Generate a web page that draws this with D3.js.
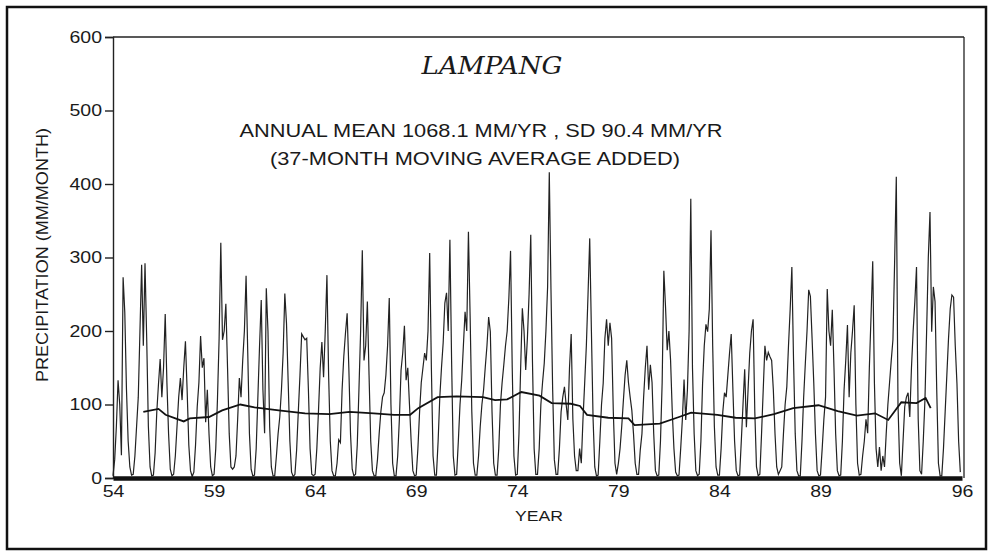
<!DOCTYPE html>
<html>
<head>
<meta charset="utf-8">
<script src="https://cdn.jsdelivr.net/npm/d3@7"></script>
<style>
  body { margin: 0; background: #fff; }
  svg { display: block; }
  .tick text { font-family: "Liberation Sans", Arial, sans-serif; font-size: 16px; fill: #1a1a1a; }
</style>
</head>
<body>
<svg id="chart" width="994" height="556"></svg>
<script>
// year labels on the x axis (19xx)
const xTicks = [54, 59, 64, 69, 74, 79, 84, 89, 96];
const yTicks = [0, 100, 200, 300, 400, 500, 600];

// first year of the record, one row of 12 monthly values per year (mm/month)
const startYear = 54;
const monthly = [
  [3, 25, 70, 133, 100, 31, 273, 225, 120, 50, 15, 4],      // 54
  [5, 30, 70, 110, 200, 290, 180, 292, 190, 70, 15, 3],     // 55
  [4, 34, 90, 128, 162, 110, 150, 223, 130, 60, 12, 3],     // 56
  [5, 30, 70, 110, 136, 106, 150, 186, 120, 45, 10, 2],     // 57
  [8, 45, 97, 130, 193, 150, 163, 76, 120, 60, 15, 3],      // 58
  [5, 40, 106, 190, 320, 188, 200, 237, 150, 60, 15, 12],   // 59
  [15, 30, 80, 136, 110, 160, 200, 275, 170, 60, 12, 3],    // 60
  [4, 40, 110, 180, 242, 120, 61, 258, 200, 70, 15, 3],     // 61
  [3, 30, 60, 83, 120, 170, 251, 210, 130, 50, 8, 2],       // 62
  [5, 38, 90, 140, 196, 192, 188, 190, 120, 40, 5, 3],      // 63
  [5, 40, 92, 150, 185, 137, 200, 276, 140, 50, 10, 3],     // 64
  [3, 20, 52, 48, 120, 165, 197, 224, 150, 60, 12, 3],      // 65
  [5, 45, 120, 200, 310, 160, 180, 240, 140, 50, 10, 3],    // 66
  [3, 25, 60, 90, 110, 116, 140, 180, 245, 100, 20, 3],     // 67
  [3, 30, 80, 147, 170, 207, 133, 150, 100, 50, 10, 3],     // 68
  [4, 40, 90, 130, 150, 170, 160, 200, 306, 150, 30, 4],    // 69
  [4, 50, 110, 150, 184, 238, 252, 200, 324, 160, 30, 4],   // 70
  [5, 50, 100, 133, 180, 226, 200, 335, 220, 90, 20, 4],    // 71
  [4, 30, 70, 100, 120, 151, 180, 219, 199, 90, 20, 4],     // 72
  [4, 40, 100, 130, 154, 180, 200, 245, 309, 150, 30, 4],   // 73
  [5, 60, 150, 231, 200, 147, 190, 250, 331, 160, 40, 5],   // 74
  [5, 40, 100, 130, 156, 200, 260, 416, 256, 120, 25, 5],   // 75
  [5, 40, 90, 110, 124, 100, 79, 150, 196, 80, 30, 10],     // 76
  [10, 40, 20, 80, 129, 180, 250, 326, 200, 80, 15, 3],     // 77
  [4, 50, 100, 129, 190, 216, 180, 211, 190, 90, 20, 5],    // 78
  [20, 40, 70, 106, 140, 160, 130, 110, 92, 60, 20, 5],     // 79
  [5, 38, 60, 110, 150, 180, 120, 154, 130, 60, 10, 3],     // 80
  [4, 50, 130, 282, 233, 174, 200, 160, 90, 40, 8, 3],      // 81
  [4, 40, 80, 134, 79, 120, 200, 380, 150, 60, 10, 3],      // 82
  [5, 50, 129, 180, 209, 199, 230, 337, 180, 70, 15, 4],    // 83
  [4, 40, 90, 116, 110, 140, 170, 196, 120, 50, 10, 3],     // 84
  [4, 51, 100, 148, 69, 120, 170, 200, 216, 90, 15, 3],     // 85
  [5, 60, 120, 180, 160, 171, 165, 160, 120, 60, 15, 5],    // 86
  [10, 15, 60, 100, 124, 180, 230, 287, 160, 60, 10, 3],    // 87
  [3, 50, 110, 156, 200, 256, 247, 190, 130, 60, 10, 3],    // 88
  [4, 40, 80, 110, 257, 200, 180, 229, 150, 60, 10, 3],     // 89
  [4, 50, 120, 160, 208, 110, 170, 200, 235, 100, 20, 4],   // 90
  [5, 30, 50, 80, 61, 150, 220, 295, 130, 40, 15, 42],      // 91
  [10, 30, 15, 60, 100, 130, 160, 188, 294, 410, 100, 20],  // 92
  [3, 50, 97, 110, 116, 83, 150, 200, 240, 287, 80, 10],    // 93
  [5, 50, 106, 200, 300, 362, 199, 260, 240, 120, 20, 3],   // 94
  [3, 40, 90, 140, 190, 230, 249, 246, 180, 129, 50, 8]     // 95
];

// 37-month moving average
const maYears = [55.5, 56.25, 56.6, 57.5, 57.8, 58.75, 59.4, 60.3, 61.0, 62.2, 63.5, 64.7, 65.7,
  66.9, 67.9, 68.7, 69.1, 70.06, 71.0, 72.3, 72.9, 73.5, 74.2, 75.1, 75.7, 76.65, 77.1, 77.45,
  78.5, 79.5, 79.8, 81.05, 82.0, 82.6, 83.9, 84.8, 85.75, 86.7, 87.65, 88.9, 89.85, 90.8, 91.7,
  92.35, 93.0, 93.75, 94.2, 94.45];
const maValues = [90, 94, 86, 77, 81, 83, 92, 100, 96, 92, 88, 87, 90,
  88, 86, 86, 95, 110, 111, 110, 106, 107, 117, 112, 102, 101, 98, 86,
  82, 81, 72, 74, 83, 89, 86, 82, 81, 87, 95, 99, 91, 85, 88,
  79, 103, 102, 109, 95];

const svg = d3.select('#chart');

// outer frame of the page
svg.append('rect')
  .attr('x', 7).attr('y', 7)
  .attr('width', 979).attr('height', 542)
  .attr('fill', 'none')
  .attr('stroke', '#111')
  .attr('stroke-width', 2.5);

const x = d3.scaleLinear().domain([54, 96]).range([113, 962]);
const y = d3.scaleLinear().domain([0, 600]).range([478, 37]);

let series = [];
monthly.forEach((row, i) => {
  row.forEach((v, m) => series.push({t: startYear + i + m / 12, v: v}));
});

// frame: top and right edges
svg.append('line')
  .attr('x1', x(54)).attr('x2', x(96) + 2)
  .attr('y1', y(600)).attr('y2', y(600))
  .attr('stroke', '#222').attr('stroke-width', 1.5);
svg.append('line')
  .attr('x1', x(96) + 2).attr('x2', x(96) + 2)
  .attr('y1', y(600)).attr('y2', y(0))
  .attr('stroke', '#222').attr('stroke-width', 1.3);

// monthly precipitation
const line = d3.line().x(d => x(d.t)).y(d => y(d.v));
svg.append('path')
  .datum(series)
  .attr('d', line)
  .attr('fill', 'none')
  .attr('stroke', '#222')
  .attr('stroke-width', 1.2);

// moving average
const ma = maYears.map((t, i) => ({t: t, v: maValues[i]}));
svg.append('path')
  .datum(ma)
  .attr('d', line)
  .attr('fill', 'none')
  .attr('stroke', '#111')
  .attr('stroke-width', 1.8);

// y axis (the scan stretches the lettering sideways)
const gy = svg.append('g')
  .attr('transform', `translate(${x(54)},0)`)
  .call(d3.axisLeft(y).tickValues(yTicks).tickSize(8).tickPadding(1));
gy.select('.domain').attr('stroke', '#222').attr('stroke-width', 1.4);
gy.selectAll('.tick line').attr('stroke', '#222').attr('stroke-width', 1.4);
gy.selectAll('.tick text').attr('transform', 'scale(1.22,1)');

// x axis, with the heavy baseline
const gx = svg.append('g')
  .attr('transform', `translate(0,${y(0)})`)
  .call(d3.axisBottom(x).tickValues(xTicks).tickSize(0).tickPadding(8).tickFormat(d3.format('d')));
gx.select('.domain').attr('stroke', '#111').attr('stroke-width', 4.5);
gx.selectAll('.tick text').attr('transform', 'scale(1.22,1)');

// titles
svg.append('text')
  .attr('x', 492).attr('y', 74)
  .attr('text-anchor', 'middle')
  .attr('font-family', '"DejaVu Serif", "Liberation Serif", serif')
  .attr('font-style', 'italic')
  .attr('font-size', 24)
  .attr('textLength', 141)
  .attr('lengthAdjust', 'spacingAndGlyphs')
  .attr('fill', '#1a1a1a')
  .text('LAMPANG');

svg.append('text')
  .attr('x', 481).attr('y', 137)
  .attr('text-anchor', 'middle')
  .attr('font-family', '"Liberation Sans", Arial, sans-serif')
  .attr('font-size', 19)
  .attr('textLength', 483)
  .attr('lengthAdjust', 'spacingAndGlyphs')
  .attr('fill', '#1a1a1a')
  .text('ANNUAL MEAN 1068.1 MM/YR , SD 90.4 MM/YR');

svg.append('text')
  .attr('x', 475).attr('y', 165)
  .attr('text-anchor', 'middle')
  .attr('font-family', '"Liberation Sans", Arial, sans-serif')
  .attr('font-size', 19)
  .attr('textLength', 410)
  .attr('lengthAdjust', 'spacingAndGlyphs')
  .attr('fill', '#1a1a1a')
  .text('(37-MONTH MOVING AVERAGE ADDED)');

svg.append('text')
  .attr('x', 539).attr('y', 521)
  .attr('text-anchor', 'middle')
  .attr('font-family', '"Liberation Sans", Arial, sans-serif')
  .attr('font-size', 15)
  .attr('textLength', 48)
  .attr('lengthAdjust', 'spacingAndGlyphs')
  .attr('fill', '#1a1a1a')
  .text('YEAR');

svg.append('text')
  .attr('transform', 'translate(48,255) rotate(-90)')
  .attr('text-anchor', 'middle')
  .attr('font-family', '"Liberation Sans", Arial, sans-serif')
  .attr('font-size', 17)
  .attr('textLength', 254)
  .attr('lengthAdjust', 'spacingAndGlyphs')
  .attr('fill', '#1a1a1a')
  .text('PRECIPITATION (MM/MONTH)');
</script>
</body>
</html>
